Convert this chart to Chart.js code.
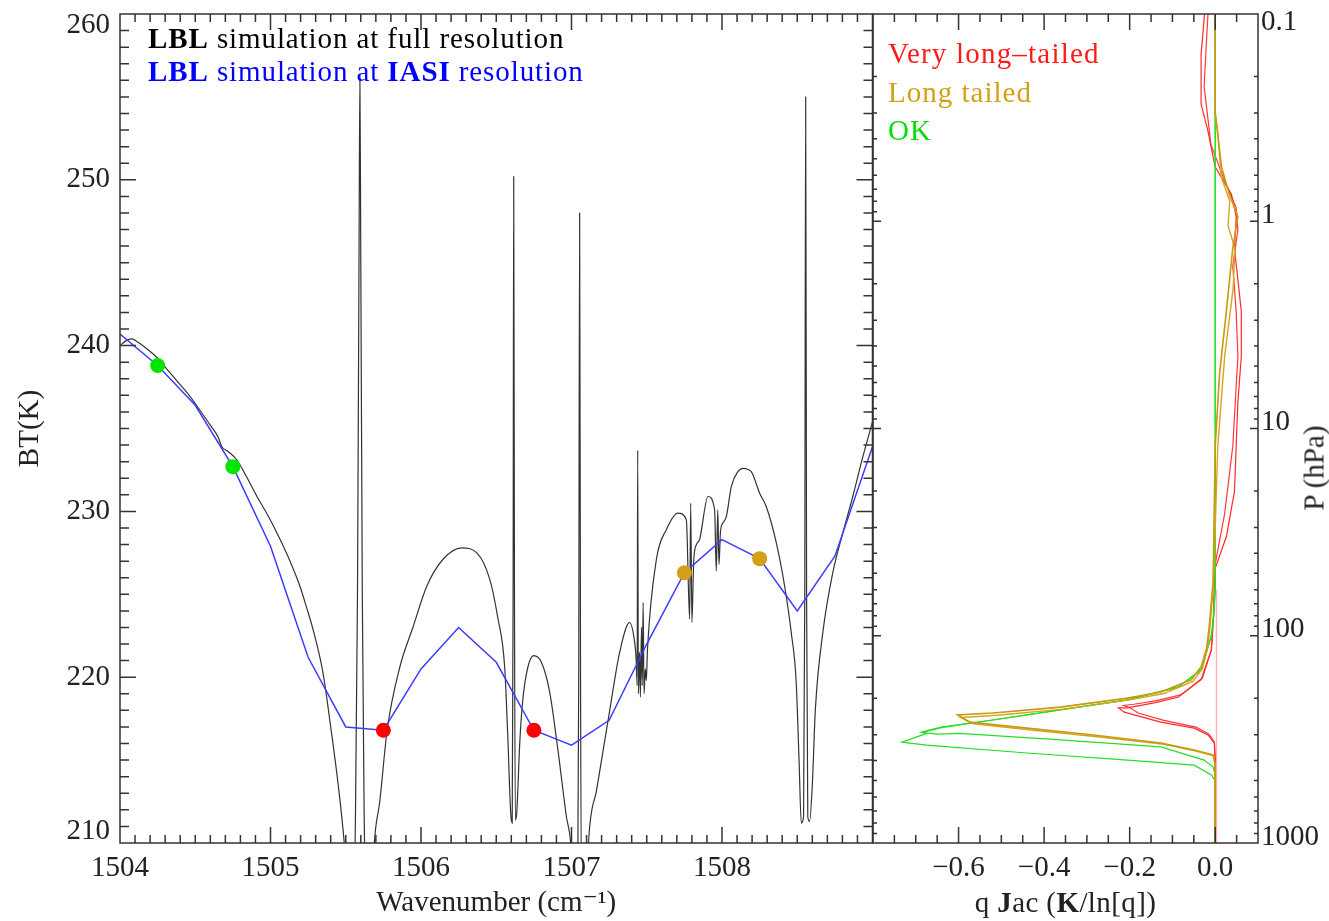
<!DOCTYPE html>
<html><head><meta charset="utf-8">
<script src="https://cdn.jsdelivr.net/npm/chart.js@4.4.1/dist/chart.umd.min.js"></script>
<style>
html,body{margin:0;padding:0;background:#fff;width:1329px;height:921px;overflow:hidden;font-family:'Liberation Serif','DejaVu Serif',serif}
canvas{position:absolute;top:0}
#cL{left:0}
#cR{left:860px}
.lbl{position:absolute;font-size:29px;line-height:29px;white-space:nowrap;z-index:5}
</style></head>
<body>
<canvas id="cL" width="880" height="921"></canvas>
<canvas id="cR" width="469" height="921"></canvas>
<div class="lbl" style="left:148px;top:24px;color:#000;letter-spacing:0.9px"><b>LBL</b> simulation at full resolution</div>
<div class="lbl" style="left:148px;top:57px;color:#0000ff;letter-spacing:0.9px"><b>LBL</b> simulation at <b>IASI</b> resolution</div>
<div class="lbl" style="left:888px;top:39px;color:#ff1a1a;letter-spacing:1.2px">Very long–tailed</div>
<div class="lbl" style="left:888px;top:78px;color:#d4a017;letter-spacing:1px">Long tailed</div>
<div class="lbl" style="left:888px;top:116px;color:#00e000;letter-spacing:1px">OK</div>
<div class="lbl" style="left:873px;width:385px;top:888px;text-align:center;color:#222;letter-spacing:0.4px">q <b>J</b>ac (<b>K</b>/ln[q])</div>
<div class="lbl" style="left:1314px;top:468px;transform:translate(-50%,-50%) rotate(-90deg);color:#222">P (hPa)</div>
<script>
// ---------- Left panel data ----------
const lblWn = [1504.000,1504.040,1504.078,1504.120,1504.180,1504.244,1504.310,1504.385,1504.460,1504.531,1504.600,1504.651,1504.677,1504.720,1504.777,1504.840,1504.910,1504.980,1505.043,1505.120,1505.195,1505.240,1505.282,1505.348,1505.400,1505.450,1505.490,1505.520,1505.550,1505.565,1505.578,1505.588,1505.594,1505.600,1505.610,1505.622,1505.640,1505.665,1505.690,1505.726,1505.775,1505.859,1505.946,1506.039,1506.145,1506.271,1506.371,1506.457,1506.510,1506.556,1506.576,1506.596,1506.606,1506.612,1506.616,1506.621,1506.627,1506.636,1506.656,1506.676,1506.710,1506.749,1506.800,1506.855,1506.910,1506.966,1506.995,1507.020,1507.040,1507.048,1507.054,1507.060,1507.070,1507.100,1507.115,1507.167,1507.254,1507.320,1507.386,1507.415,1507.430,1507.436,1507.440,1507.444,1507.452,1507.458,1507.465,1507.470,1507.476,1507.482,1507.490,1507.497,1507.505,1507.564,1507.630,1507.707,1507.763,1507.785,1507.792,1507.800,1507.812,1507.830,1507.851,1507.907,1507.951,1507.962,1507.972,1507.980,1507.990,1508.006,1508.029,1508.062,1508.106,1508.139,1508.194,1508.250,1508.294,1508.361,1508.416,1508.460,1508.493,1508.512,1508.527,1508.542,1508.550,1508.556,1508.562,1508.570,1508.582,1508.600,1508.620,1508.670,1508.736,1508.803,1508.869,1508.936,1509.000];
const lblBT = [240.0,240.3,240.4,240.2,239.8,239.3,238.6,237.8,237.0,236.1,235.2,234.5,233.9,233.6,233.1,232.1,230.9,229.8,228.7,227.2,225.5,224.2,222.9,220.3,217.0,213.5,210.0,206.0,205.0,212.0,225.0,245.0,256.3,245.0,225.0,212.0,205.0,205.0,210.0,212.5,216.8,220.6,223.0,225.5,227.1,227.8,227.5,225.9,223.6,220.6,216.6,211.8,211.2,225.0,250.2,225.0,211.4,211.8,216.0,218.6,220.6,221.3,220.9,219.1,215.6,211.6,210.0,206.0,205.0,220.0,248.0,220.0,205.0,207.0,210.3,213.2,218.0,221.5,223.3,222.4,221.0,219.5,233.7,219.0,221.5,218.8,223.0,219.5,224.5,219.0,220.5,219.8,221.7,227.1,228.9,229.9,229.5,223.5,230.5,223.3,227.0,228.0,228.3,230.9,230.1,226.4,230.1,226.8,228.8,229.3,229.7,231.5,232.4,232.6,232.4,231.1,230.3,228.1,225.5,222.7,219.7,215.0,211.2,211.6,225.0,255.0,225.0,211.6,211.3,213.5,218.0,222.7,226.3,228.7,230.9,233.3,235.4];

const iasiWn = [1504.00,1504.25,1504.50,1504.75,1505.00,1505.25,1505.50,1505.75,1506.00,1506.25,1506.50,1506.75,1507.00,1507.25,1507.50,1507.75,1508.00,1508.25,1508.50,1508.75,1509.00];
const iasiBT = [240.7,238.8,236.4,232.7,227.9,221.2,217.0,216.8,220.5,223.0,220.9,216.8,215.9,217.4,222.0,226.3,228.3,227.15,224.0,227.3,233.9];

const okWn  = [1504.25, 1504.75];   const okBT  = [238.8, 232.7];
const vltWn = [1505.75, 1506.75];   const vltBT = [216.8, 216.8];
const ltWn  = [1507.75, 1508.25];   const ltBT  = [226.3, 227.15];

const wnTickValues = [1504,1505,1506,1507,1508];
const wnTickLabels = ['1504','1505','1506','1507','1508'];
const btTickValues = [210,220,230,240,250,260];
const btTickLabels = [['210',''],'220','230','240','250',['','260']];

// ---------- Right panel data (x = q Jacobian, p = pressure hPa) ----------
const goldA_x = [0.000,0.000,0.005,0.015,0.033,0.053,0.041,0.026,0.010,0.000,-0.005,-0.014,-0.020,-0.033,-0.056,-0.127,-0.205,-0.362,-0.520,-0.602,-0.574,-0.440,-0.285,-0.127,-0.049,-0.005,0.000,0.000];
const goldA_p = [0.1,0.30,0.37,0.55,0.74,0.95,1.35,2.72,5.5,12.2,55,90,115,141,163,187,200,221,236,241,261,279,301,329,356,376,420,1000];
const goldB_x = [0.000,0.000,0.006,0.014,0.034,0.030,0.046,0.042,0.022,0.006,-0.004,-0.012,-0.018,-0.030,-0.052,-0.120,-0.200,-0.355,-0.510,-0.595,-0.565,-0.430,-0.275,-0.120,-0.045,-0.004,0.000,0.000];
const goldB_p = [0.1,0.30,0.37,0.61,0.80,1.05,1.35,2.1,4.5,12.2,55,90,115,144,166,190,204,226,242,248,266,285,307,334,360,380,420,1000];
const greenA_x = [0,0,-0.004,-0.009,-0.033,-0.087,-0.205,-0.362,-0.520,-0.638,-0.685,-0.675,-0.732,-0.675,-0.440,-0.205,-0.049,-0.009,0,0];
const greenA_p = [0.1,60,82,100,146,177,204,228,255,275,291,296,326,337,368,398,421,470,501,1000];
const greenB_x = [0,0,-0.004,-0.009,-0.033,-0.087,-0.205,-0.362,-0.520,-0.640,-0.685,-0.650,-0.598,-0.362,-0.127,-0.026,-0.005,0,0];
const greenB_p = [0.1,60,82,100,146,177,204,228,255,278,293,298,296,318,344,398,430,470,1000];
const redA_x = [-0.025,-0.033,-0.033,-0.017,0.000,0.038,0.049,0.045,0.061,0.061,0.053,0.049,0.045,0.026,0.000,-0.004,-0.009,-0.033,-0.087,-0.143,-0.205,-0.226,-0.214,-0.190,-0.127,-0.049,-0.017,-0.002,0,0];
const redA_p = [0.1,0.157,0.272,0.367,0.548,0.741,0.95,1.35,2.72,4.49,7.41,12.2,20.1,33.3,47.2,80,117,163,198,211,223,223,233,241,261,279,301,329,400,1000];
const redB_x = [-0.017,-0.026,-0.010,0.018,0.049,0.053,0.041,0.049,0.053,0.041,0.022,0.000,-0.004,-0.009,-0.030,-0.080,-0.140,-0.190,-0.214,-0.200,-0.180,-0.120,-0.045,-0.015,-0.002,0,0];
const redB_p = [0.1,0.223,0.427,0.607,0.861,1.10,1.65,2.72,4.49,12.2,25.8,45,80,117,160,193,206,214,217,222,236,256,276,298,325,400,1000];
const pink_x = [0.003,0.003];
const pink_p = [60,1000];

const jacTickValues = [-0.6,-0.4,-0.2,0.0];
const jacTickLabels = ['\u22120.6','\u22120.4','\u22120.2','0.0'];
const pTickValues = [0.1,1,10,100,1000];
const pTickLabels = [['','0.1'],'1','10','100','1000'];

// ---------- helpers ----------
const FONT = "'Liberation Serif','DejaVu Serif',serif";
const pts = (xs, ys) => xs.map((x, i) => ({x: x, y: ys[i]}));
function steps(a, b, n) { const out = []; for (let i = 0; i <= n; i++) out.push(a + (b - a) * i / n); return out; }

const frameTicks = {
  id: 'frameTicks',
  afterDatasetsDraw(chart, args, o) {
    const {ctx, chartArea: a} = chart;
    const xs = chart.scales.x, ys = chart.scales.y;
    ctx.save();
    ctx.strokeStyle = o.color; ctx.lineWidth = o.lineWidth;
    ctx.beginPath();
    const vx = (list, len) => list.forEach(v => { const p = xs.getPixelForValue(v); ctx.moveTo(p, a.bottom); ctx.lineTo(p, a.bottom - len); ctx.moveTo(p, a.top); ctx.lineTo(p, a.top + len); });
    const vy = (list, len) => list.forEach(v => { const p = ys.getPixelForValue(v); ctx.moveTo(a.left, p); ctx.lineTo(a.left + len, p); ctx.moveTo(a.right, p); ctx.lineTo(a.right - len, p); });
    vx(o.xMajor, o.xMajorLen); vx(o.xMinor, o.xMinorLen);
    vy(o.yMajor, o.yMajorLen); vy(o.yMinor, o.yMinorLen);
    ctx.rect(a.left, a.top, a.right - a.left, a.bottom - a.top);
    ctx.stroke();
    ctx.restore();
  }
};

const tickFont = {family: FONT, size: 29};

// ---------- Left chart ----------
new Chart(document.getElementById('cL'), {
  type: 'scatter',
  data: { datasets: [
    {label:'OK', data: pts(okWn, okBT), showLine:false, pointRadius:7.5, pointBackgroundColor:'#00e600', pointBorderWidth:0},
    {label:'Very long-tailed', data: pts(vltWn, vltBT), showLine:false, pointRadius:7.5, pointBackgroundColor:'#ff0000', pointBorderWidth:0},
    {label:'Long tailed', data: pts(ltWn, ltBT), showLine:false, pointRadius:7.5, pointBackgroundColor:'#d4a017', pointBorderWidth:0},
    {label:'LBL simulation at IASI resolution', data: pts(iasiWn, iasiBT), showLine:true, borderColor:'#3c3cff', borderWidth:1.5, pointRadius:0},
    {label:'LBL simulation at full resolution', data: pts(lblWn, lblBT), showLine:true, borderColor:'#333333', borderWidth:1.2, pointRadius:0, cubicInterpolationMode:'monotone'}
  ]},
  options: {
    responsive:false, animation:false, events:[],
    layout:{padding:{top:14, right:7, left:0, bottom:0}},
    plugins:{legend:{display:false}, tooltip:{enabled:false},
      frameTicks:{color:'#333', lineWidth:1.5,
        xMajor: steps(1504,1509,5), xMinor: steps(1504,1509,50), xMajorLen:16, xMinorLen:8,
        yMajor: steps(210,260,5), yMinor: steps(210,260,50), yMajorLen:16, yMinorLen:9}},
    scales:{
      x:{type:'linear', min:1504, max:1509,
        afterBuildTicks: s => { s.ticks = wnTickValues.map(v => ({value:v})); },
        afterFit: s => { s.height = 78; s.paddingLeft = 0; s.paddingRight = 0; },
        grid:{display:false, drawTicks:false}, border:{display:false},
        ticks:{autoSkip:false, maxRotation:0, padding:8, color:'#222', font:tickFont, callback:(v,i) => wnTickLabels[i]},
        title:{display:true, text:'Wavenumber (cm\u207B\u00B9)', color:'#222', font:{family:FONT, size:29}, padding:{top:0, bottom:0}}
      },
      y:{type:'linear', min:210, max:260,
        afterBuildTicks: s => { s.ticks = btTickValues.map(v => ({value:v})); },
        afterFit: s => { s.width = 120; s.paddingTop = 0; s.paddingBottom = 0; },
        grid:{display:false, drawTicks:false}, border:{display:false},
        ticks:{autoSkip:false, padding:10, color:'#222', font:{family:FONT, size:29, lineHeight:0.8}, callback:(v,i) => btTickLabels[i]},
        title:{display:true, text:'BT(K)', color:'#222', font:{family:FONT, size:29}, padding:{top:13, bottom:0}}
      }
    }
  },
  plugins:[frameTicks]
});

// ---------- Right chart ----------
const lineDs = (label, xs, ps, color, w) => ({label, data: pts(xs, ps), showLine:true, borderColor:color, borderWidth:w, pointRadius:0});
new Chart(document.getElementById('cR'), {
  type: 'scatter',
  data: { datasets: [
    lineDs('Long tailed A', goldA_x, goldA_p, '#c99a10', 1.6),
    lineDs('Long tailed B', goldB_x, goldB_p, '#d4a520', 1.4),
    lineDs('OK A', greenA_x, greenA_p, '#22e022', 1.2),
    lineDs('OK B', greenB_x, greenB_p, '#22e022', 1.2),
    lineDs('Very long-tailed A', redA_x, redA_p, '#ff2a2a', 1.2),
    lineDs('Very long-tailed B', redB_x, redB_p, '#ff3a3a', 1.2),
    lineDs('zero', pink_x, pink_p, '#ffb5b5', 1.5)
  ]},
  options: {
    responsive:false, animation:false, events:[],
    layout:{padding:{top:14, right:0, left:13, bottom:0}},
    plugins:{legend:{display:false}, tooltip:{enabled:false},
      frameTicks:{color:'#333', lineWidth:1.5,
        xMajor: steps(-0.8,0.0,4), xMinor: steps(-0.8,0.1,18), xMajorLen:16, xMinorLen:8,
        yMajor: pTickValues, yMinor: [0.2,0.3,0.4,0.5,0.6,0.7,0.8,0.9,2,3,4,5,6,7,8,9,20,30,40,50,60,70,80,90,200,300,400,500,600,700,800,900], yMajorLen:8, yMinorLen:4}},
    scales:{
      x:{type:'linear', min:-0.8, max:0.1,
        afterBuildTicks: s => { s.ticks = jacTickValues.map(v => ({value:v})); },
        afterFit: s => { s.height = 78; s.paddingLeft = 0; s.paddingRight = 0; },
        grid:{display:false, drawTicks:false}, border:{display:false},
        ticks:{autoSkip:false, maxRotation:0, padding:8, color:'#222', font:tickFont, callback:(v,i) => jacTickLabels[i]}
      },
      y:{type:'logarithmic', position:'right', min:0.1, max:1000, reverse:true,
        afterBuildTicks: s => { s.ticks = pTickValues.map(v => ({value:v})); },
        afterFit: s => { s.width = 71; s.paddingTop = 0; s.paddingBottom = 0; },
        grid:{display:false, drawTicks:false}, border:{display:false},
        ticks:{autoSkip:false, padding:3, labelOffset:-6, color:'#222', font:{family:FONT, size:29, lineHeight:1.0}, callback:(v,i) => pTickLabels[i]}
      }
    }
  },
  plugins:[frameTicks]
});
</script>
</body></html>
